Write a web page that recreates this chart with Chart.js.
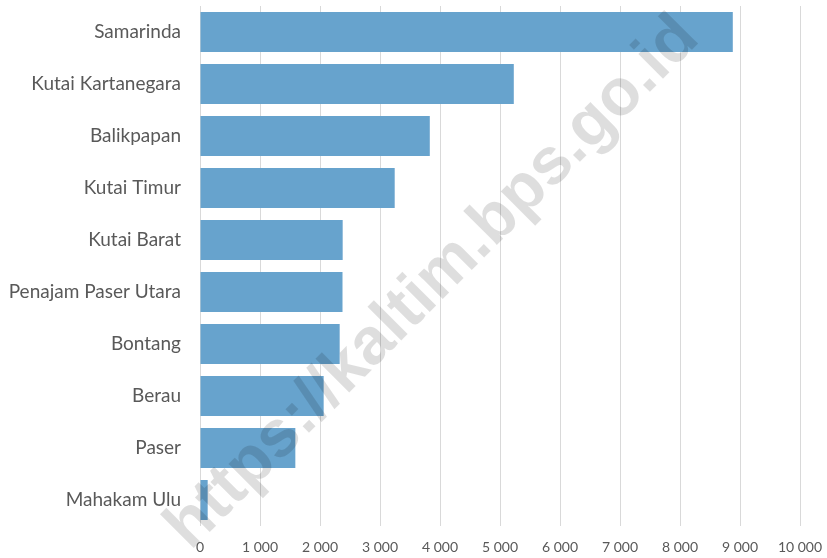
<!DOCTYPE html>
<html>
<head>
<meta charset="utf-8">
<title>Kalimantan Timur</title>
<script src="https://cdn.jsdelivr.net/npm/chart.js"></script>
<style>
  html, body { margin: 0; padding: 0; background: #fff; }
  #wrap { width: 827px; height: 558px; }
</style>
</head>
<body>
<div id="wrap"><canvas id="bar-chart" width="827" height="558"></canvas></div>
<script>
// values
const categories = [
  'Samarinda', 'Kutai Kartanegara', 'Balikpapan', 'Kutai Timur', 'Kutai Barat',
  'Penajam Paser Utara', 'Bontang', 'Berau', 'Paser', 'Mahakam Ulu'
];
const values = [8880, 5230, 3830, 3245, 2378, 2375, 2328, 2061, 1589, 128];
const xMax = 10000;
const xStep = 1000;

// 1000 -> "1 000"
const fmt = v => String(v).replace(/\B(?=(\d{3})+(?!\d))/g, ' ');

// watermark across the plot
const watermark = {
  id: 'watermark',
  afterDatasetsDraw(chart) {
    const ctx = chart.ctx;
    ctx.save();
    ctx.translate(433, 283);
    ctx.rotate(-Math.PI / 4);
    ctx.font = 'bold 66px "Liberation Sans", Arial, sans-serif';
    ctx.fillStyle = 'rgba(0, 0, 0, 0.13)';
    ctx.textAlign = 'center';
    ctx.textBaseline = 'middle';
    ctx.fillText('https://kaltim.bps.go.id', 0, 0);
    ctx.restore();
  }
};

const noPad = s => {
  s.paddingTop = 0;
  s.paddingBottom = 0;
  s.paddingLeft = 0;
  s.paddingRight = 0;
};

const ctx = document.getElementById('bar-chart').getContext('2d');
new Chart(ctx, {
  type: 'bar',
  data: {
    labels: categories,
    datasets: [{
      data: values,
      backgroundColor: '#67a3cd',
      borderWidth: 0,
      barPercentage: 0.77,
      categoryPercentage: 1
    }]
  },
  options: {
    indexAxis: 'y',
    responsive: false,
    animation: false,
    layout: { padding: { top: 6, right: 27, left: 0, bottom: 0 } },
    plugins: {
      legend: { display: false },
      tooltip: { enabled: false }
    },
    scales: {
      x: {
        min: 0,
        max: xMax,
        border: { display: false },
        grid: { color: '#d9d9d9', lineWidth: 1, drawTicks: false },
        ticks: {
          stepSize: xStep,
          padding: 13,
          color: '#595959',
          font: { family: 'Lato, "Open Sans", sans-serif', size: 14 },
          maxRotation: 0,
          callback: v => fmt(v)
        },
        afterFit: s => { s.height = 32; noPad(s); }
      },
      y: {
        border: { display: false },
        grid: { display: false, drawTicks: false },
        ticks: {
          padding: 19,
          color: '#595959',
          font: { family: 'Lato, "Open Sans", sans-serif', size: 19 }
        },
        afterFit: s => { s.width = 200; noPad(s); }
      }
    }
  },
  plugins: [watermark]
});
</script>
</body>
</html>
